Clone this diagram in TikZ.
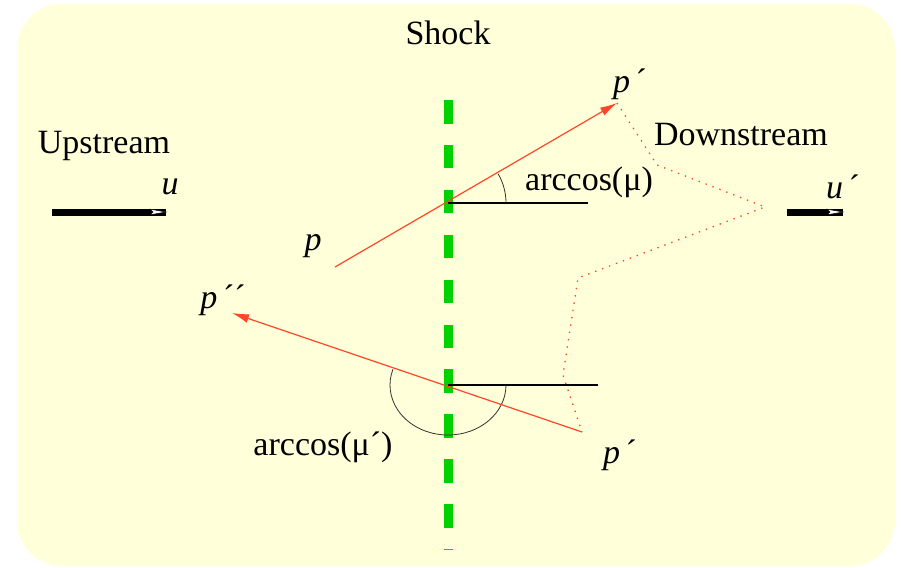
\documentclass[tikz,border=0pt]{standalone}
\usepackage{fontspec}
\setmainfont{Liberation Serif}
\usetikzlibrary{arrows.meta}
\definecolor{paper}{RGB}{255,255,217}
\definecolor{shockgreen}{RGB}{0,210,0}
\definecolor{ray}{RGB}{255,70,40}
\tikzset{
  lab/.style={font=\fontsize{34}{40}\selectfont, inner sep=0pt},
  raypath/.style={ray, line width=1.2pt, -{Latex[length=17pt,width=9pt]}},
  flowbar/.style={line width=7pt},
}
\begin{document}
\begin{tikzpicture}[x=1pt,y=-1pt]
    \useasboundingbox (0,0) rectangle (901,567);
    \fill[paper, rounded corners=45pt] (17,4) rectangle (895,566);
    % shock front
    \coordinate (s1) at (448,100);
    \coordinate (s2) at (448,550);
    \draw[shockgreen, line width=9pt, dash pattern=on 23.5pt off 21.4pt] (s1) -- (s2);
    % crossing points and ray ends
    \coordinate (cu) at (448,203);
    \coordinate (cl) at (448,385);
    \coordinate (pin) at (335,267);
    \coordinate (pout) at (617,103);
    \coordinate (qin) at (582,432);
    \coordinate (qout) at (232,313);
    \coordinate (hu) at (588,203);
    \coordinate (hl) at (598,385);
    \draw[line width=1.2pt] (cu) -- (hu);
    \draw[line width=1.2pt] (cl) -- (hl);
    \draw[line width=0.8pt, black!80] (cu) ++(58,0) arc[start angle=0, end angle=-30.2, radius=58];
    \draw[line width=0.8pt, black!80] (cl) ++(58,0) arc[start angle=0, end angle=198.4, x radius=58, y radius=50];
    \draw[raypath] (pin) -- (pout);
    \draw[raypath] (qin) -- (qout);
    % path downstream
    \draw[ray, line width=1.3pt, dash pattern=on 1.4pt off 6pt]
      (pout) -- (657,165) -- (765,207) -- (578,278) -- (563,375) -- (qin);
    % flow arrows
    \coordinate (ua) at (52,212);
    \coordinate (ub) at (166,212);
    \coordinate (da) at (787,212);
    \coordinate (db) at (843,212);
    \draw[flowbar] (ua) -- (ub);
    \draw[flowbar] (da) -- (db);
    \filldraw[white, draw=black, line width=0.5pt] (ub) -- ++(-16,-2.8) -- ++(3,2.8) -- ++(-3,2.8) -- cycle;
    \filldraw[white, draw=black, line width=0.5pt] (db) -- ++(-16,-2.8) -- ++(3,2.8) -- ++(-3,2.8) -- cycle;
    % labels
    \node[lab] (shock) at (448,33) {Shock};
    \node[lab] (up) at (104,146) {Upstream};
    \node[lab] (down) at (741,135) {Downstream};
    \node[lab] (u) at (170,187) {\textit{u}};
    \node[lab] (u2) at (843,187) {\textit{u}\,´};
    \node[lab] (plab) at (313,246) {\textit{p}};
    \node[lab] (p1lab) at (630,84) {\textit{p}\,´};
    \node[lab] (p2lab) at (223,300) {\textit{p}\,´´};
    \node[lab] (p3lab) at (620,455) {\textit{p}\,´};
    \node[lab] (mu) at (589,182) {arccos(μ)};
    \node[lab] (mu2) at (323,447) {arccos(μ´)};
\end{tikzpicture}
\end{document}
